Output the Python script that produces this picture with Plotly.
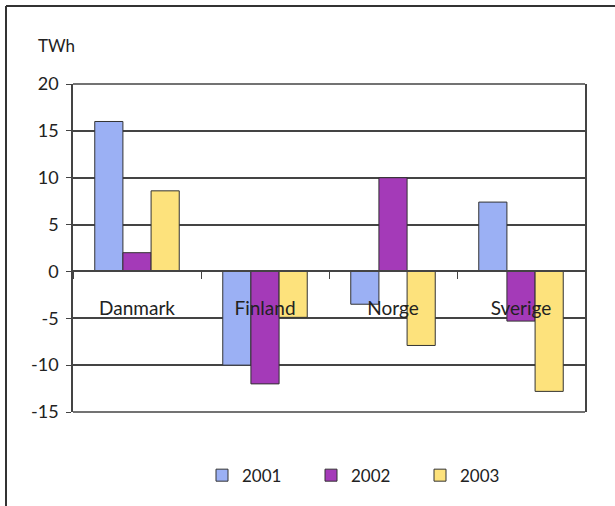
import plotly.graph_objects as go

# Net electricity exchange per country (TWh)
countries = ["Danmark", "Finland", "Norge", "Sverige"]
years = ["2001", "2002", "2003"]
values_2001 = [16.0, -10.0, -3.5, 7.4]
values_2002 = [2.0, -12.0, 10.0, -5.3]
values_2003 = [8.6, -4.9, -7.9, -12.8]
y_ticks = [-15, -10, -5, 0, 5, 10, 15, 20]
y_tick_text = ["-15", "-10", "-5", "0", "5", "10", "15", "20"]

series = [values_2001, values_2002, values_2003]
colors = ["#9BB0F4", "#A43AB8", "#FDE27C"]

W, H = 615, 506
ML, MR, MT, MB = 73, 30, 84, 92
PW, PH = W - ML - MR, H - MT - MB

def px_x(px):
    return (px - ML) / PW

def px_y(py):
    return (H - MB - py) / PH

fig = go.Figure()
for name, vals, col in zip(years, series, colors):
    fig.add_trace(go.Bar(
        x=countries, y=vals, name=name,
        marker=dict(color=col, line=dict(color="#333333", width=1)),
    ))

ymin, ymax = y_ticks[0], y_ticks[-1]
axis_col = "#444444"
font_main = "Lato, 'Open Sans', sans-serif"

fig.update_layout(
    width=W, height=H,
    margin=dict(l=ML, r=MR, t=MT, b=MB),
    paper_bgcolor="white", plot_bgcolor="white",
    barmode="group", bargap=0.34, bargroupgap=0,
    showlegend=True,
    legend=dict(
        orientation="h", x=px_x(202), xanchor="left",
        y=px_y(478), yanchor="middle",
        entrywidth=64, entrywidthmode="pixels",
        font=dict(family=font_main, size=17, color="#222222"),
        itemclick=False, bgcolor="rgba(0,0,0,0)",
    ),
    xaxis=dict(
        type="category", categoryorder="array", categoryarray=countries,
        range=[-0.5, 3.5],
        anchor="free", position=(0 - ymin) / (ymax - ymin),
        showline=True, linecolor=axis_col, linewidth=1.5,
        tickson="boundaries", ticks="outside", ticklen=7, tickcolor=axis_col,
        tickwidth=1, showgrid=False,
        ticklabelstandoff=20,
        tickfont=dict(family=font_main, size=19, color="#222222"),
    ),
    yaxis=dict(
        range=[ymin, ymax], tickvals=y_ticks, ticktext=y_tick_text,
        showline=True, mirror=True, linecolor=axis_col, linewidth=1.5,
        ticks="outside", ticklen=5, tickcolor=axis_col,
        showgrid=True, gridcolor=axis_col, gridwidth=1.5,
        zeroline=False, ticklabelstandoff=4,
        tickfont=dict(family=font_main, size=18, color="#222222"),
    ),
    annotations=[dict(
        text="TWh", xref="paper", yref="paper",
        x=px_x(36), y=px_y(45), xanchor="left", yanchor="middle",
        showarrow=False, font=dict(family=font_main, size=17, color="#222222"),
    )],
    shapes=[
        # top and bottom edges of the plotting area
        dict(type="line", xref="paper", yref="paper", x0=0, x1=1, y0=1, y1=1,
             line=dict(color=axis_col, width=1.5)),
        dict(type="line", xref="paper", yref="paper", x0=0, x1=1, y0=0, y1=0,
             line=dict(color=axis_col, width=1.5)),
        # outer frame
        dict(type="line", xref="paper", yref="paper",
             x0=px_x(6), x1=px_x(616), y0=px_y(5.5), y1=px_y(5.5),
             line=dict(color="#333333", width=2)),
        dict(type="line", xref="paper", yref="paper",
             x0=px_x(6), x1=px_x(6), y0=px_y(5.5), y1=px_y(510),
             line=dict(color="#333333", width=2)),
    ],
)

fig.write_html("out.html")
